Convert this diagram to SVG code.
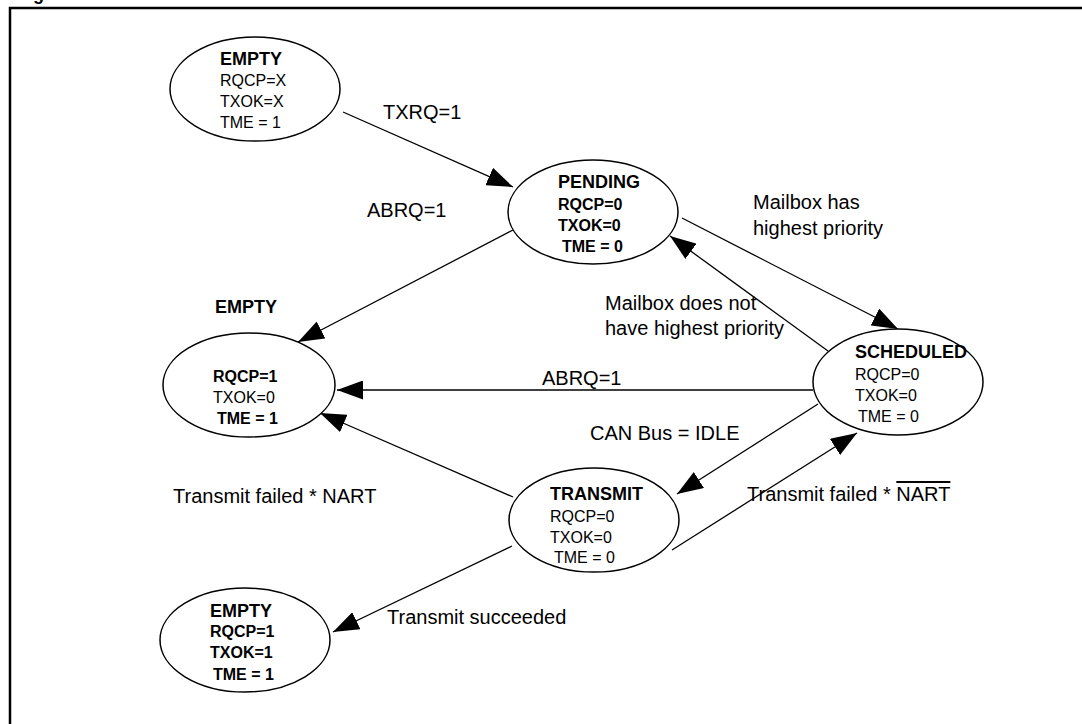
<svg xmlns="http://www.w3.org/2000/svg" width="1082" height="724" viewBox="0 0 1082 724">
<style>
text{font-family:"Liberation Sans",Arial,Helvetica,sans-serif;fill:#000}
.t{font-size:18px;font-weight:bold}
.f{font-size:16px}
.b{font-weight:bold}
.l{font-size:20px}
ellipse{fill:#fff;stroke:#000;stroke-width:1.5}
.c path{fill:none;stroke:#000;stroke-width:1.3;marker-end:url(#ah)}
</style>
<defs>
<marker id="ah" viewBox="0 0 26 19" refX="26" refY="9.5" markerWidth="26" markerHeight="19" markerUnits="userSpaceOnUse" orient="auto"><path d="M0,0 L26,9.5 L0,19 z" fill="#000"/></marker>
</defs>
<rect width="1082" height="724" fill="#fff"/>
<text x="33" y="0" style="font-size:18px;font-weight:bold">g</text>
<path d="M10,724 V8 H1082" fill="none" stroke="#000" stroke-width="2.5"/>

<g class="c" id="connectors">
<path d="M343,112 L513,187"/>
<path d="M513,230 L298,342"/>
<path d="M682,218 L898,329"/>
<path d="M828,351 L670,236"/>
<path d="M813,390 L337,390"/>
<path d="M818,404 L677,494"/>
<path d="M672,550 L857,433"/>
<path d="M513,497 L320,413"/>
<path d="M512,546 L333,632"/>
<text class="l" x="383" y="119">TXRQ=1</text>
<text class="l" x="367" y="217">ABRQ=1</text>
<text class="l" x="753" y="209">Mailbox has</text>
<text class="l" x="753" y="235">highest priority</text>
<text class="l" x="605" y="310">Mailbox does not</text>
<text class="l" x="605" y="335">have highest priority</text>
<text class="l" x="542" y="385">ABRQ=1</text>
<text class="l" x="590" y="440">CAN Bus = IDLE</text>
<text class="l" x="173" y="503">Transmit failed * NART</text>
<text class="l" x="747" y="501">Transmit failed * <tspan style="text-decoration:overline">NART</tspan></text>
<text class="l" x="387" y="624">Transmit succeeded</text>
</g>

<g id="empty_top">
<ellipse cx="255" cy="89" rx="85" ry="52"/>
<text class="t" x="220" y="65">EMPTY</text>
<text class="f" x="220" y="86">RQCP=X</text>
<text class="f" x="220" y="107">TXOK=X</text>
<text class="f" x="220" y="128">TME = 1</text>
</g>

<g id="pending">
<ellipse cx="593" cy="212" rx="85" ry="52"/>
<text class="t" x="558" y="188">PENDING</text>
<text class="f b" x="558" y="210">RQCP=0</text>
<text class="f b" x="558" y="231">TXOK=0</text>
<text class="f b" x="562" y="252">TME = 0</text>
</g>

<g id="empty_mid">
<text class="t" x="215" y="313">EMPTY</text>
<ellipse cx="249" cy="385" rx="86" ry="52"/>
<text class="f b" x="213" y="382">RQCP=1</text>
<text class="f" x="213" y="403">TXOK=0</text>
<text class="f b" x="217" y="424">TME = 1</text>
</g>

<g id="scheduled">
<ellipse cx="898" cy="382" rx="85" ry="53"/>
<text class="t" x="855" y="358">SCHEDULED</text>
<text class="f" x="855" y="380">RQCP=0</text>
<text class="f" x="855" y="401">TXOK=0</text>
<text class="f" x="858" y="422">TME = 0</text>
</g>

<g id="transmit">
<ellipse cx="594" cy="520" rx="85" ry="52"/>
<text class="t" x="550" y="500">TRANSMIT</text>
<text class="f" x="550" y="522">RQCP=0</text>
<text class="f" x="550" y="543">TXOK=0</text>
<text class="f" x="554" y="563">TME = 0</text>
</g>

<g id="empty_bottom">
<ellipse cx="245" cy="640" rx="85" ry="52"/>
<text class="t" x="210" y="617">EMPTY</text>
<text class="f b" x="210" y="637">RQCP=1</text>
<text class="f b" x="210" y="658">TXOK=1</text>
<text class="f b" x="213" y="680">TME = 1</text>
</g>
</svg>
